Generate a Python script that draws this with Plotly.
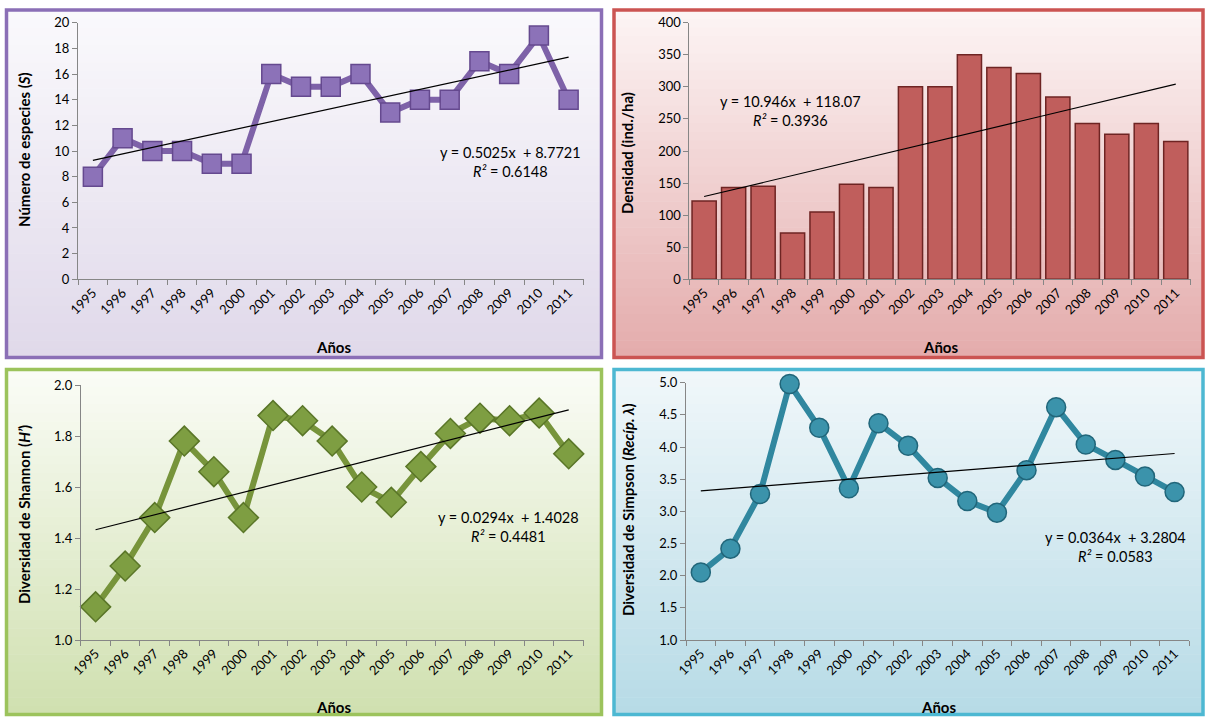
import plotly.graph_objects as go

W, H = 1206, 717

years = [str(y) for y in range(1995, 2012)]
especies = [8, 11, 10, 10, 9, 9, 16, 15, 15, 16, 13, 14, 14, 17, 16, 19, 14]
densidad = [122, 143, 145, 72, 105, 148, 143, 300, 300, 350, 330, 321, 284, 243, 226, 243, 215]
shannon = [1.13, 1.29, 1.48, 1.78, 1.66, 1.48, 1.88, 1.86, 1.78, 1.60, 1.54, 1.68, 1.81, 1.87, 1.86, 1.89, 1.73]
simpson = [2.05, 2.42, 3.27, 4.98, 4.30, 3.36, 4.37, 4.02, 3.52, 3.16, 2.98, 3.64, 4.62, 4.04, 3.80, 3.54, 3.30]

# trend line coefficients (from equations shown)
trend_slope = [0.5025, 10.946, 0.0294, 0.0364]
trend_icpt = [8.7721, 118.07, 1.4028, 3.2804]
eq_text = [
    "y = 0.5025x  + 8.7721<br><i>R²</i> = 0.6148",
    "y = 10.946x  + 118.07<br><i>R²</i> = 0.3936",
    "y = 0.0294x  + 1.4028<br><i>R²</i> = 0.4481",
    "y = 0.0364x  + 3.2804<br><i>R²</i> = 0.0583",
]
ytitles = [
    "Número de especies (<i>S</i>)",
    "Densidad (ind./ha)",
    "Diversidad de Shannon (<i>H’</i>)",
    "Diversidad de Simpson (<i>Recíp. λ</i>)",
]
xtitle = "Años"

FONT = "Lato"


def px(x):
    return x / W


def py(y):
    return 1 - y / H


fig = go.Figure()

# panel frames (pixel boxes, stroke centre) and colours
panels = [
    dict(box=(6.5, 10, 601.5, 357.5), border="#8B6FB6", top=(250, 249, 252), bot=(224, 217, 234)),
    dict(box=(614, 10, 1203, 357.5), border="#CB5452", top=(252, 244, 244), bot=(228, 172, 172)),
    dict(box=(6.5, 369.5, 601.5, 714.5), border="#9CC35C", top=(250, 252, 246), bot=(208, 224, 176)),
    dict(box=(614, 369.5, 1203, 714.5), border="#4DB8D2", top=(240, 247, 250), bot=(183, 219, 230)),
]

shapes = []
NSTRIP = 40
for p in panels:
    x0, y0, x1, y1 = p["box"]
    hgt = (y1 - y0) / NSTRIP
    for i in range(NSTRIP):
        t = i / (NSTRIP - 1)
        c = tuple(int(round(p["top"][k] + (p["bot"][k] - p["top"][k]) * t)) for k in range(3))
        shapes.append(dict(type="rect", xref="paper", yref="paper",
                           x0=px(x0), x1=px(x1), y0=py(y0 + i * hgt), y1=py(y0 + (i + 1) * hgt + 0.6),
                           fillcolor="rgb(%d,%d,%d)" % c, line=dict(width=0), layer="below"))
    shapes.append(dict(type="rect", xref="paper", yref="paper",
                       x0=px(x0), x1=px(x1), y0=py(y0), y1=py(y1),
                       line=dict(color=p["border"], width=3.5), fillcolor="rgba(0,0,0,0)", layer="above"))

# plot-area domains in pixels: (left, top, right, bottom)
areas = [(78, 22.7, 583.5, 279.3), (689.4, 22.7, 1190.5, 279.3), (80.8, 385, 583.5, 640), (686, 382.7, 1189.4, 640)]

axis_common = dict(showgrid=False, zeroline=False, showline=True, linecolor="#868686", linewidth=1,
                   ticks="outside", ticklen=5, tickcolor="#868686", automargin=False,
                   tickfont=dict(family=FONT, size=13, color="black"))

yranges = [(0, 20, 2, None), (0, 400, 50, None), (1, 2, 0.2, ".1f"), (1, 5, 0.5, ".1f")]

layout_axes = {}
for i, (l, t, r, b) in enumerate(areas):
    n = "" if i == 0 else str(i + 1)
    y0, y1, dt, fmt = yranges[i]
    layout_axes["xaxis" + n] = dict(axis_common, domain=[px(l), px(r)], anchor="y" + n, type="category",
                                    tickson="boundaries", tickangle=-45,
                                    range=[-0.5, len(years) - 0.5])
    ya = dict(axis_common, domain=[py(b), py(t)], anchor="x" + n, range=[y0, y1], dtick=dt, tick0=y0)
    if fmt:
        ya["tickformat"] = fmt
    layout_axes["yaxis" + n] = ya

# series
line_styles = [
    dict(data=especies, line="#7E62A8", fill="#8C72B8", edge="#65498F", symbol="square", size=19),
    None,
    dict(data=shannon, line="#77943B", fill="#7E9E42", edge="#5A7628", symbol="diamond", size=23),
    dict(data=simpson, line="#30879F", fill="#3B93AB", edge="#21667A", symbol="circle", size=19),
]

for i in range(4):
    n = "" if i == 0 else str(i + 1)
    xa, yaa = "x" + n, "y" + n
    if i == 1:
        fig.add_trace(go.Bar(x=years, y=densidad, xaxis=xa, yaxis=yaa,
                             marker=dict(color="#C05E5C", line=dict(color="#6E2423", width=1.5)),
                             showlegend=False))
    else:
        s = line_styles[i]
        fig.add_trace(go.Scatter(x=years, y=s["data"], xaxis=xa, yaxis=yaa, mode="lines+markers",
                                 line=dict(color=s["line"], width=6),
                                 marker=dict(symbol=s["symbol"], size=s["size"], color=s["fill"],
                                             line=dict(color=s["edge"], width=1.5)),
                                 cliponaxis=False, showlegend=False))
    trend = [trend_slope[i] * (k + 1) + trend_icpt[i] for k in range(len(years))]
    fig.add_trace(go.Scatter(x=years, y=trend, xaxis=xa, yaxis=yaa, mode="lines",
                             line=dict(color="black", width=1.2), showlegend=False, hoverinfo="skip"))

annotations = []
# equations (pixel centre positions)
eq_pos = [(510, 162), (790, 111), (508, 527), (1115, 547)]
for (x, y), txt in zip(eq_pos, eq_text):
    annotations.append(dict(x=px(x), y=py(y), xref="paper", yref="paper", text=txt, showarrow=False,
                            xanchor="center", yanchor="middle",
                            font=dict(family=FONT, size=14.5, color="black"), align="center"))

ytitle_pos = [(24, 150), (627, 153), (24, 515), (628, 510)]
for (x, y), txt in zip(ytitle_pos, ytitles):
    annotations.append(dict(x=px(x), y=py(y), xref="paper", yref="paper", text="<b>" + txt + "</b>",
                            showarrow=False, textangle=-90, xanchor="center", yanchor="middle",
                            font=dict(family=FONT, size=15, color="black")))

xtitle_pos = [(333, 347), (940, 347), (333, 707), (938, 707)]
for (x, y) in xtitle_pos:
    annotations.append(dict(x=px(x), y=py(y), xref="paper", yref="paper", text="<b>" + xtitle + "</b>",
                            showarrow=False, xanchor="center", yanchor="middle",
                            font=dict(family=FONT, size=15, color="black")))

fig.update_layout(width=W, height=H, margin=dict(l=0, r=0, t=0, b=0, autoexpand=False),
                  paper_bgcolor="white", plot_bgcolor="rgba(0,0,0,0)",
                  bargap=0.18, shapes=shapes, annotations=annotations,
                  font=dict(family=FONT), **layout_axes)

fig.write_html("out.html", config={"displayModeBar": False},
               post_script="document.body.style.margin='0px';document.body.style.overflow='hidden';")
